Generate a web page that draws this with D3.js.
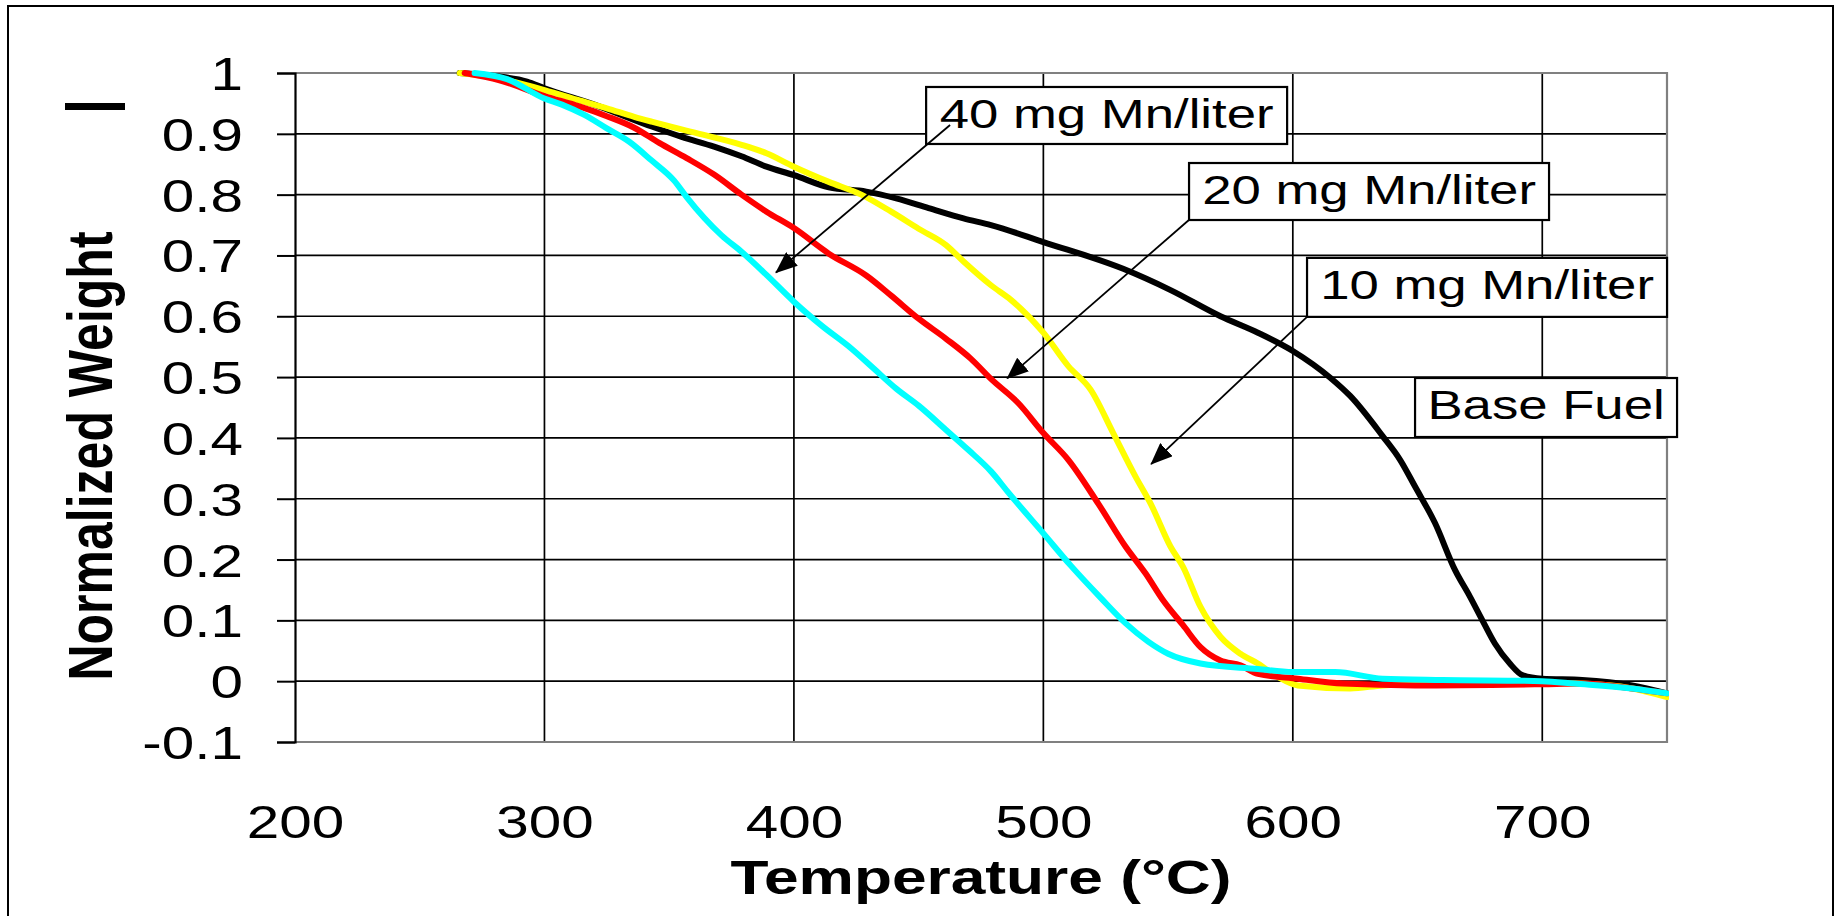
<!DOCTYPE html>
<html><head><meta charset="utf-8">
<script src="https://cdn.jsdelivr.net/npm/d3@7"></script>
<style>html,body{margin:0;padding:0;background:#fff;} svg{display:block}</style>
</head><body><svg id="chart" width="1837" height="916"></svg>
<script>
// ---------------- DATA ----------------
const xTickValues = [200, 300, 400, 500, 600, 700];
const xTickLabels = ["200", "300", "400", "500", "600", "700"];
const yTickValues = [-0.1, 0, 0.1, 0.2, 0.3, 0.4, 0.5, 0.6, 0.7, 0.8, 0.9, 1];
const yTickLabels = ["-0.1", "0", "0.1", "0.2", "0.3", "0.4", "0.5", "0.6", "0.7", "0.8", "0.9", "1"];
const xGridValues = [300, 400, 500, 600, 700];
const yGridValues = [0, 0.1, 0.2, 0.3, 0.4, 0.5, 0.6, 0.7, 0.8, 0.9];

const xTitle = "Temperature (°C)";
const yTitle = "Normalized Weight";

const seriesNames = ["Base Fuel", "10 mg Mn/liter", "20 mg Mn/liter", "40 mg Mn/liter"];

const baseFuelTemp   = [266, 280, 293, 300, 320, 343, 355, 368, 379, 389, 400, 414, 429, 441, 454, 468, 479, 500, 532, 551, 571, 586, 600, 615, 623, 636, 643, 649, 657, 665, 671, 676, 681, 687, 692, 700, 716, 736, 750];
const baseFuelWeight = [1.0, 0.995, 0.986, 0.975, 0.948, 0.912, 0.895, 0.879, 0.863, 0.846, 0.832, 0.812, 0.805, 0.794, 0.778, 0.761, 0.75, 0.722, 0.678, 0.643, 0.60, 0.573, 0.543, 0.499, 0.469, 0.403, 0.364, 0.32, 0.26, 0.183, 0.139, 0.10, 0.062, 0.029, 0.01, 0.004, 0.002, -0.007, -0.02];

const mn10Temp   = [266, 280, 300, 314, 325, 336, 343, 361, 379, 389, 400, 414, 427, 439, 450, 461, 468, 479, 487, 500, 510, 519, 528, 537, 543, 551, 556, 563, 571, 579, 586, 594, 602, 623, 636, 660, 700, 716, 736, 750];
const mn10Weight = [1.0, 0.992, 0.972, 0.955, 0.942, 0.928, 0.92, 0.901, 0.882, 0.868, 0.846, 0.821, 0.80, 0.772, 0.744, 0.717, 0.69, 0.651, 0.627, 0.573, 0.518, 0.479, 0.408, 0.336, 0.292, 0.221, 0.188, 0.122, 0.073, 0.045, 0.029, 0.007, -0.007, -0.012, -0.007, -0.004, -0.003, -0.004, -0.012, -0.026];

const mn20Temp   = [268, 282, 300, 314, 325, 336, 346, 357, 368, 379, 389, 400, 414, 429, 439, 450, 461, 471, 479, 490, 500, 510, 522, 533, 541, 548, 556, 563, 571, 579, 586, 602, 620, 649, 700, 716, 736, 750];
const mn20Weight = [1.0, 0.988, 0.962, 0.945, 0.929, 0.91, 0.885, 0.86, 0.833, 0.80, 0.772, 0.745, 0.703, 0.667, 0.634, 0.596, 0.563, 0.53, 0.497, 0.457, 0.408, 0.364, 0.292, 0.221, 0.177, 0.133, 0.092, 0.056, 0.034, 0.026, 0.012, 0.004, -0.004, -0.007, -0.005, -0.004, -0.012, -0.02];

const mn40Temp   = [272, 285, 300, 307, 316, 325, 334, 343, 352, 357, 364, 371, 379, 389, 400, 411, 423, 432, 441, 450, 461, 470, 479, 486, 500, 511, 523, 533, 542, 550, 563, 586, 600, 617, 636, 660, 700, 713, 736, 750];
const mn40Weight = [1.0, 0.99, 0.958, 0.948, 0.931, 0.909, 0.887, 0.856, 0.823, 0.796, 0.762, 0.733, 0.706, 0.668, 0.624, 0.585, 0.547, 0.514, 0.481, 0.453, 0.413, 0.38, 0.345, 0.31, 0.243, 0.19, 0.137, 0.095, 0.065, 0.045, 0.029, 0.020, 0.015, 0.015, 0.004, 0.002, 0.0, -0.004, -0.012, -0.02];

// annotation anchors (data coordinates)
const annTexts    = ["40 mg Mn/liter", "20 mg Mn/liter", "10 mg Mn/liter", "Base Fuel"];
const annBoxT     = [453, 558.4, 605.7, 649];
const annBoxW     = [0.977, 0.852, 0.696, 0.4985];
const annArrowT0  = [462.6, 558.8, 605.7, null];
const annArrowW0  = [0.9145, 0.76, 0.599, null];
const annArrowT1  = [392.8, 485.5, 543.2, null];
const annArrowW1  = [0.672, 0.498, 0.357, null];

// ---------------- LAYOUT / STYLE ----------------
const seriesColors = ["#000000", "#ffff00", "#ff0000", "#00ffff"];
const annBoxSize = [[361, 57], [360, 57], [360, 59], [262, 59]];
const FONT = "'Liberation Sans', Arial, Helvetica, sans-serif";
const SX = 1.27; // horizontal stretch of the original picture
const plot = {left: 295, right: 1667, top: 73, bottom: 742};

const svg = d3.select("#chart");
svg.append("rect").attr("width", 1837).attr("height", 916).attr("fill", "#fff");
// outer frame
svg.append("rect").attr("x", 8).attr("y", 6).attr("width", 1825).attr("height", 1000)
  .attr("fill", "none").attr("stroke", "#000").attr("stroke-width", 2);

const x = d3.scaleLinear().domain([200, 750]).range([plot.left, plot.right]);
const y = d3.scaleLinear().domain([-0.1, 1]).range([plot.bottom, plot.top]);

// gridlines
svg.append("g").selectAll("line").data(yGridValues).join("line")
  .attr("x1", plot.left).attr("x2", plot.right)
  .attr("y1", d => y(d)).attr("y2", d => y(d))
  .attr("stroke", "#000").attr("stroke-width", 1.7);
svg.append("g").selectAll("line").data(xGridValues).join("line")
  .attr("x1", d => x(d)).attr("x2", d => x(d))
  .attr("y1", plot.top).attr("y2", plot.bottom)
  .attr("stroke", "#000").attr("stroke-width", 1.7);

// plot frame (gray top/right/bottom)
svg.append("path")
  .attr("d", `M${plot.left},${plot.top}H${plot.right}V${plot.bottom}H${plot.left}`)
  .attr("fill", "none").attr("stroke", "#808080").attr("stroke-width", 2.2);

// y axis
const yAxis = d3.axisLeft(y).tickValues(yTickValues).tickSize(18)
  .tickFormat((d, i) => yTickLabels[i]);
const gy = svg.append("g").attr("transform", `translate(${plot.left},0)`).call(yAxis);
gy.select(".domain").attr("stroke", "#000").attr("stroke-width", 2.2);
gy.selectAll(".tick line").attr("stroke", "#000").attr("stroke-width", 2);
gy.selectAll(".tick text")
  .attr("x", null).attr("dy", null)
  .attr("transform", `translate(-52,16.5) scale(${SX},1)`)
  .attr("text-anchor", "end")
  .style("font-family", FONT).style("font-size", "46px").attr("fill", "#000");

// x axis
const xAxis = d3.axisBottom(x).tickValues(xTickValues).tickSize(0)
  .tickFormat((d, i) => xTickLabels[i]);
const gx = svg.append("g").attr("transform", `translate(0,${plot.bottom})`).call(xAxis);
gx.select(".domain").remove();
gx.selectAll(".tick text")
  .attr("y", null).attr("dy", null)
  .attr("transform", `translate(0,96) scale(${SX},1)`)
  .attr("text-anchor", "middle")
  .style("font-family", FONT).style("font-size", "46px").attr("fill", "#000");

// axis titles
svg.append("text")
  .attr("transform", `translate(${(plot.left + plot.right) / 2},894) scale(${SX},1)`)
  .attr("text-anchor", "middle")
  .style("font-family", FONT).style("font-size", "49px").style("font-weight", "bold")
  .text(xTitle);
svg.append("text")
  .attr("transform", `translate(112,456) scale(${SX},1) rotate(-90)`)
  .attr("text-anchor", "middle")
  .style("font-family", FONT).style("font-size", "50px").style("font-weight", "bold")
  .text(yTitle);
// stray bar mark at top-left of the original
svg.append("line").attr("x1", 65).attr("x2", 125).attr("y1", 106.5).attr("y2", 106.5)
  .attr("stroke", "#000").attr("stroke-width", 7);

// series
const seriesTemps = [baseFuelTemp, mn10Temp, mn20Temp, mn40Temp];
const seriesWeights = [baseFuelWeight, mn10Weight, mn20Weight, mn40Weight];
const line = d3.line().x(d => x(d[0])).y(d => y(d[1])).curve(d3.curveMonotoneX);
svg.append("defs").append("clipPath").attr("id", "clip")
  .append("rect").attr("x", plot.left).attr("y", plot.top - 10)
  .attr("width", plot.right - plot.left + 2).attr("height", plot.bottom - plot.top + 10);
const gs = svg.append("g").attr("clip-path", "url(#clip)");
seriesNames.forEach((name, i) => {
  const pts = seriesTemps[i].map((t, j) => [t, seriesWeights[i][j]]);
  gs.append("path").datum(pts).attr("d", line)
    .attr("fill", "none").attr("stroke", seriesColors[i])
    .attr("stroke-width", 6).attr("stroke-linejoin", "round").attr("stroke-linecap", "round")
    .attr("data-name", name);
});

// arrow marker
svg.select("defs").append("marker").attr("id", "arrow")
  .attr("viewBox", "0 0 22 18").attr("refX", 21).attr("refY", 9)
  .attr("markerWidth", 22).attr("markerHeight", 18)
  .attr("markerUnits", "userSpaceOnUse").attr("orient", "auto")
  .append("path").attr("d", "M0,0L22,9L0,18Z").attr("fill", "#000");

// annotations
annTexts.forEach((txt, i) => {
  const bx = x(annBoxT[i]), by = y(annBoxW[i]);
  const [bw, bh] = annBoxSize[i];
  svg.append("rect").attr("x", bx).attr("y", by).attr("width", bw).attr("height", bh)
    .attr("fill", "#fff").attr("stroke", "#000").attr("stroke-width", 2.2);
  svg.append("text")
    .attr("transform", `translate(${bx + bw / 2},${by + 41}) scale(${SX},1)`)
    .attr("text-anchor", "middle")
    .style("font-family", FONT).style("font-size", "41.5px").attr("fill", "#000")
    .text(txt);
  if (annArrowT0[i] !== null) {
    svg.append("line")
      .attr("x1", x(annArrowT0[i])).attr("y1", y(annArrowW0[i]))
      .attr("x2", x(annArrowT1[i])).attr("y2", y(annArrowW1[i]))
      .attr("stroke", "#000").attr("stroke-width", 1.8)
      .attr("marker-end", "url(#arrow)");
  }
});
</script>
</body></html>
